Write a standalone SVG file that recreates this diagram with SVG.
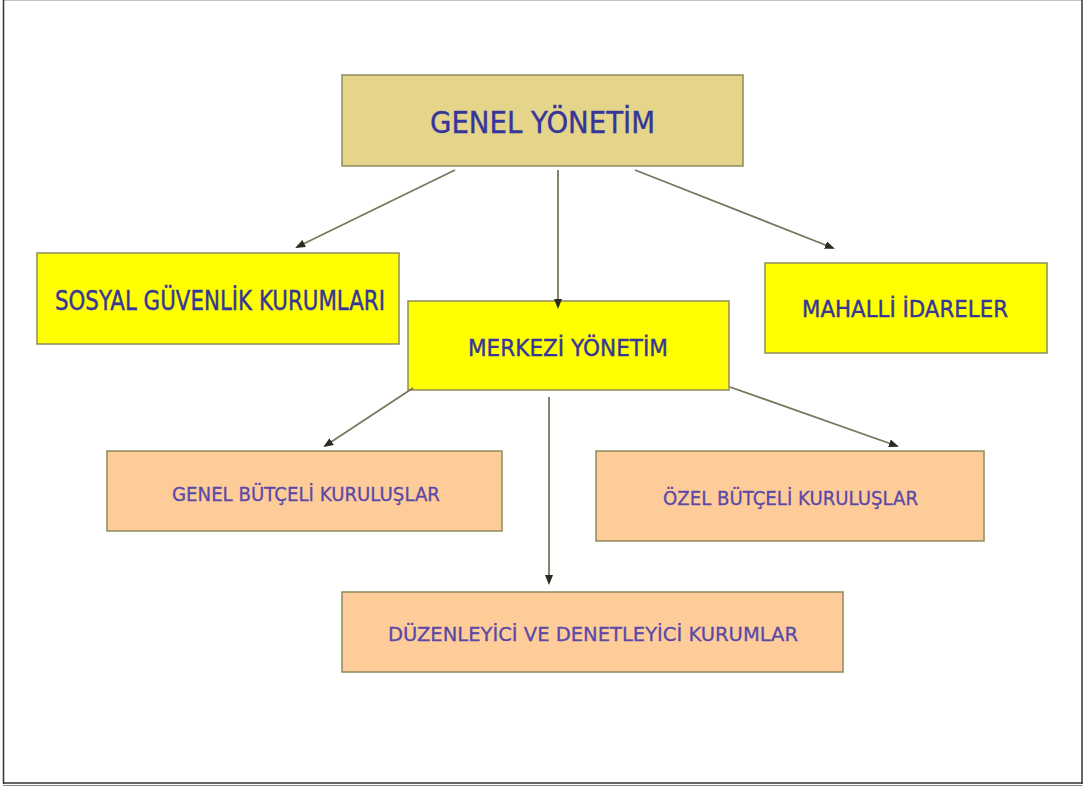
<svg xmlns="http://www.w3.org/2000/svg" width="1084" height="787" viewBox="0 0 1084 787">
  <style>
    .box { stroke: #8f8a5c; stroke-width: 1.5; }
    .gold { fill: #e4d58b; }
    .yellow { fill: #ffff00; }
    .peach { fill: #fecc99; }
    .lbl { font-family: "DejaVu Sans", Verdana, sans-serif; text-anchor: middle; fill: #35359a; stroke: #35359a; stroke-width: 0.4; }
    .lbl2 { font-family: "DejaVu Sans", Verdana, sans-serif; text-anchor: middle; fill: #5a48a8; stroke: #5a48a8; stroke-width: 0.3; }
    .conn { stroke: #77775f; stroke-width: 1.8; fill: none; marker-end: url(#arrow); }
  </style>
  <defs>
    <marker id="arrow" markerWidth="10" markerHeight="8" refX="8" refY="4" orient="auto" markerUnits="userSpaceOnUse">
      <path d="M0,0 L10,4 L0,8 Z" fill="#2b2b22"/>
    </marker>
  </defs>

  <rect x="0" y="0" width="1084" height="787" fill="#ffffff"/>
  <!-- page frame -->
  <line x1="3.5" y1="0.5" x2="1082" y2="0.5" stroke="#c4c4c4" stroke-width="1"/>
  <line x1="3.5" y1="0" x2="3.5" y2="784" stroke="#333" stroke-width="1.5"/>
  <line x1="1082" y1="0" x2="1082" y2="784" stroke="#333" stroke-width="1.5"/>
  <line x1="3" y1="783" x2="1082.5" y2="783" stroke="#333" stroke-width="1.5"/>
  <line x1="3" y1="785.5" x2="1082.5" y2="785.5" stroke="#888" stroke-width="1"/>

  <g id="genel-yonetim">
    <rect class="box gold" x="342" y="75" width="401" height="91"/>
    <text class="lbl" x="542.5" y="133" font-size="31" textLength="225" lengthAdjust="spacingAndGlyphs">GENEL YÖNETİM</text>
  </g>

  <g id="sosyal-guvenlik">
    <rect class="box yellow" x="37" y="253" width="362" height="91"/>
    <text class="lbl" x="220" y="310" font-size="26" textLength="330" lengthAdjust="spacingAndGlyphs">SOSYAL GÜVENLİK KURUMLARI</text>
  </g>

  <g id="merkezi-yonetim">
    <rect class="box yellow" x="408" y="301" width="321" height="89"/>
    <text class="lbl" x="568" y="356" font-size="23" textLength="200" lengthAdjust="spacingAndGlyphs">MERKEZİ YÖNETİM</text>
  </g>

  <g id="mahalli-idareler">
    <rect class="box yellow" x="765" y="263" width="282" height="90"/>
    <text class="lbl" x="905" y="317" font-size="23" textLength="206" lengthAdjust="spacingAndGlyphs">MAHALLİ İDARELER</text>
  </g>

  <g id="genel-butceli">
    <rect class="box peach" x="107" y="451" width="395" height="80"/>
    <text class="lbl2" x="306" y="501" font-size="20" textLength="268" lengthAdjust="spacingAndGlyphs">GENEL BÜTÇELİ KURULUŞLAR</text>
  </g>

  <g id="ozel-butceli">
    <rect class="box peach" x="596" y="451" width="388" height="90"/>
    <text class="lbl2" x="790.5" y="505" font-size="20" textLength="255" lengthAdjust="spacingAndGlyphs">ÖZEL BÜTÇELİ KURULUŞLAR</text>
  </g>

  <g id="duzenleyici">
    <rect class="box peach" x="342" y="592" width="501" height="80"/>
    <text class="lbl2" x="593" y="641" font-size="20" textLength="410" lengthAdjust="spacingAndGlyphs">DÜZENLEYİCİ VE DENETLEYİCİ KURUMLAR</text>
  </g>

  <!-- connectors drawn over the boxes -->
  <g id="connectors">
    <line class="conn" x1="455" y1="170" x2="297" y2="247"/>
    <line class="conn" x1="558" y1="170" x2="558" y2="307"/>
    <line class="conn" x1="635" y1="170" x2="833" y2="248"/>
    <line class="conn" x1="413" y1="388" x2="325" y2="446"/>
    <line class="conn" x1="549" y1="397" x2="549" y2="583"/>
    <line class="conn" x1="730" y1="387" x2="897" y2="446"/>
  </g>
</svg>
